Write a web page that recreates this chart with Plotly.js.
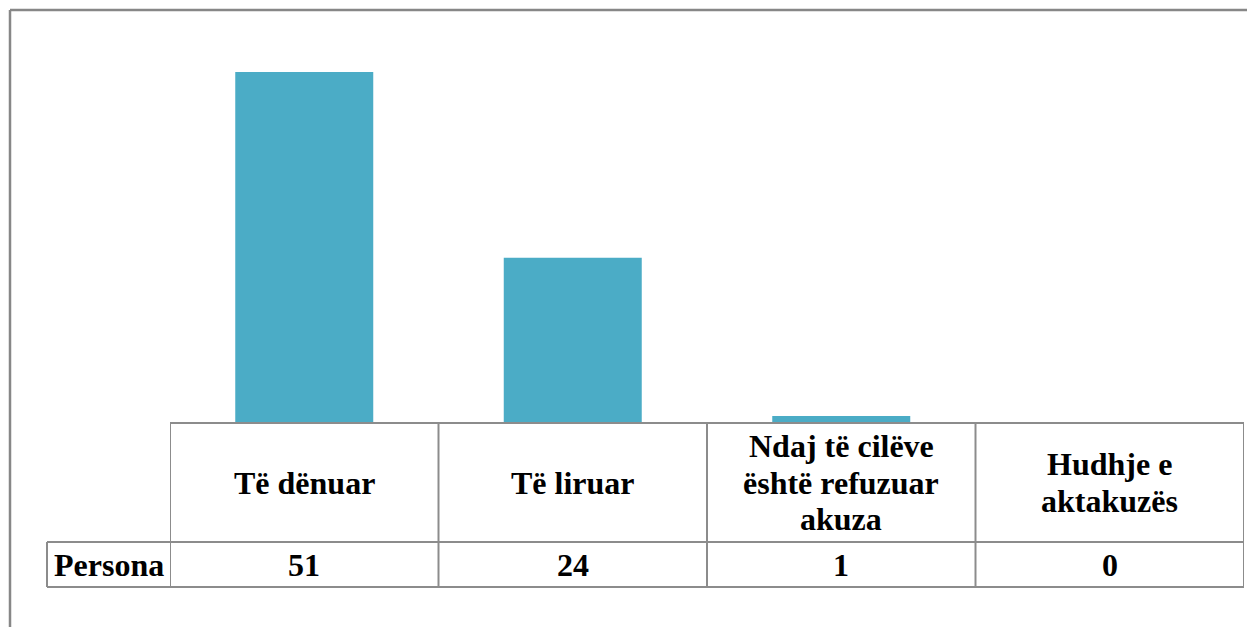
<!DOCTYPE html>
<html>
<head>
<meta charset="utf-8">
<script src="https://cdn.plot.ly/plotly-3.0.1.min.js"></script>
<style>html,body{margin:0;padding:0;background:#fff;}#chart{width:1247px;height:627px;}</style>
</head>
<body>
<div id="chart"></div>
<script>
// ---- data ----
const categories = ["Të dënuar", "Të liruar", "Ndaj të cilëve<br>është refuzuar<br>akuza", "Hudhje e<br>aktakuzës"];
const seriesName = "Persona";
const values = [51, 24, 1, 0];

// ---- geometry helpers (pixels -> paper) ----
const W = 1247, H = 627;
const L = 170, R = 1244, T = 10, B = 423;
const pw = R - L, ph = B - T;
const py = y => (B - y) / ph;
const pxp = x => (x - L) / pw;

const headerBottom = 542, rowBottom = 587, rowLeft = 47;
const gridColor = "#8c8c8c";
const fontFam = "Liberation Serif, Times New Roman, serif";
const fs = 32;
const lineStep = 36.5;

const xs = categories.map((c, i) => i);

const trace = {
  type: "bar",
  x: xs,
  y: values,
  name: seriesName,
  marker: { color: "#4BACC6" },
  hoverinfo: "skip"
};

const shapes = [];
const line = (xref, x0, x1, y0, y1, color, w) =>
  shapes.push({ type: "line", xref: xref, yref: "paper", x0, x1, y0, y1, line: { color: color, width: w } });

// table horizontal lines
line("x", -0.5, categories.length - 0.5, 0, 0, gridColor, 2);
line("paper", pxp(rowLeft), 1, py(headerBottom), py(headerBottom), gridColor, 2);
line("paper", pxp(rowLeft), 1, py(rowBottom), py(rowBottom), gridColor, 2);
// vertical lines
for (let i = 0; i <= categories.length; i++) {
  line("x", i - 0.5, i - 0.5, 0, py(rowBottom), gridColor, 2);
}
line("paper", pxp(rowLeft), pxp(rowLeft), py(headerBottom), py(rowBottom), gridColor, 2);
// outer chart border (top & left)
line("paper", pxp(10), pxp(W + 5), py(10), py(10), "#878787", 2.5);
line("paper", pxp(10), pxp(10), py(10), py(H + 5), "#878787", 2.5);

const annotations = [];
const headerMid = (B + headerBottom) / 2;
categories.forEach((c, i) => {
  const parts = c.split("<br>");
  parts.forEach((p, k) => {
    const yc = headerMid + (k - (parts.length - 1) / 2) * lineStep;
    annotations.push({
      xref: "x", yref: "paper", x: i, y: py(yc),
      text: "<b>" + p + "</b>", showarrow: false,
      xanchor: "center", yanchor: "middle",
      font: { family: fontFam, size: fs, color: "#000" }
    });
  });
});
const rowMid = (headerBottom + rowBottom) / 2;
values.forEach((v, i) => {
  annotations.push({
    xref: "x", yref: "paper", x: i, y: py(rowMid),
    text: "<b>" + v + "</b>", showarrow: false,
    xanchor: "center", yanchor: "middle",
    font: { family: fontFam, size: fs, color: "#000" }
  });
});
annotations.push({
  xref: "paper", yref: "paper", x: pxp((rowLeft + L) / 2), y: py(rowMid),
  text: "<b>" + seriesName + "</b>", showarrow: false,
  xanchor: "center", yanchor: "middle",
  font: { family: fontFam, size: fs, color: "#000" }
});

const layout = {
  width: W, height: H,
  margin: { l: L, r: W - R, t: T, b: H - B, pad: 0 },
  paper_bgcolor: "#fff", plot_bgcolor: "#fff",
  showlegend: false,
  bargap: 0.486,
  xaxis: { range: [-0.5, categories.length - 0.5], showticklabels: false, showgrid: false, zeroline: false, showline: false, ticks: "", fixedrange: true },
  yaxis: { range: [0, 60], showticklabels: false, showgrid: false, zeroline: false, showline: false, ticks: "", fixedrange: true },
  shapes: shapes,
  annotations: annotations
};

Plotly.newPlot("chart", [trace], layout, { displayModeBar: false, staticPlot: true });
</script>
</body>
</html>
